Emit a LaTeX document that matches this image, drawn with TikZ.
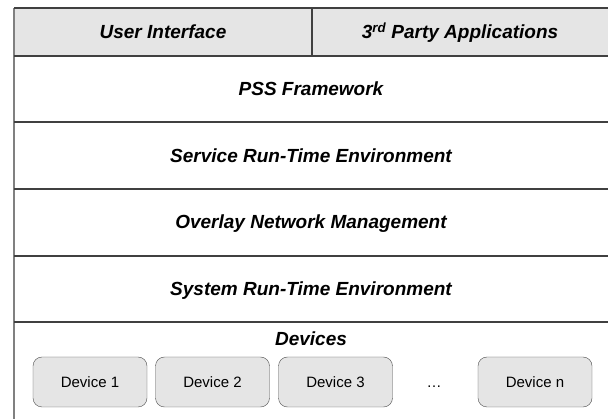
\documentclass[tikz,border=0pt]{standalone}
\usepackage{fontspec}
\setmainfont{Liberation Sans}
\tikzset{
  layer/.style={font=\fontsize{19}{22}\selectfont\bfseries\itshape,
    text height=14pt,text depth=4pt},
  rule/.style={draw=black!75,line width=1.2pt},
  devbox/.style={draw=black!70,fill=black!10,rounded corners=9pt,
    minimum width=114pt,minimum height=50pt,inner sep=0pt,
    font=\fontsize{15}{18}\selectfont},
}
\begin{document}
\begin{tikzpicture}[x=1pt,y=-1pt]
      \useasboundingbox (0,0) rectangle (608,419);
      \fill[black!10] (14,8) rectangle (608,56);
      \draw[black!50,line width=1.5pt] (14,8) -- (14,419);
      \begin{scope}[rule]
        \draw (14,8) -- (608,8);
        \draw (312,8) -- (312,56);
        \draw (14,56) -- (608,56);
        \draw (14,122) -- (608,122);
        \draw (14,189) -- (608,189);
        \draw (14,256) -- (608,256);
        \draw (14,322) -- (608,322);
      \end{scope}
      \draw
        (163,34) node[layer] (ui){User Interface}
        (460,34) node[layer] (apps){3\textsuperscript{rd} Party Applications}
        (311,91) node[layer] (pss){PSS Framework}
        (311,158) node[layer] (srte){Service Run-Time Environment}
        (311,224) node[layer] (onm){Overlay Network Management}
        (311,291) node[layer] (syrte){System Run-Time Environment}
        (311,341) node[layer] (devices){Devices};
      \draw
        (90,382) node[devbox] (d1){Device 1}
        (212.5,382) node[devbox] (d2){Device 2}
        (335.5,382) node[devbox] (d3){Device 3}
        (434,388) node[anchor=base,font=\fontsize{15}{18}\selectfont] (dots){…}
        (535,382) node[devbox] (dn){Device n};
    \end{tikzpicture}
\end{document}
